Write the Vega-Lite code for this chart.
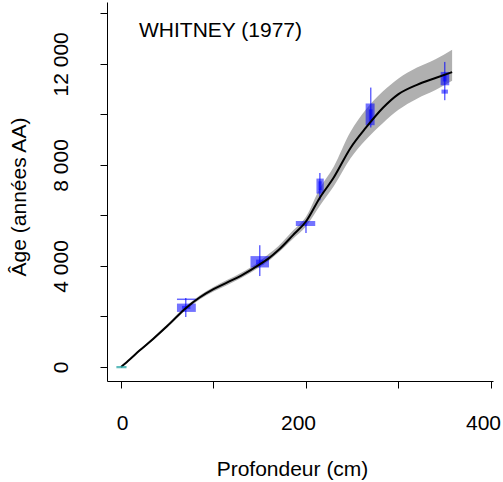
{
  "$schema": "https://vega.github.io/schema/vega-lite/v6.json",
  "width": 386,
  "height": 379,
  "autosize": "none",
  "padding": {"left": 107, "top": 2, "right": 10, "bottom": 101},
  "background": "white",
  "config": {
    "view": {"stroke": null},
    "font": "Liberation Sans",
    "axis": {
      "grid": false,
      "domainColor": "#000000",
      "tickColor": "#000000",
      "tickSize": 7,
      "labelFont": "Liberation Sans",
      "labelFontSize": 21,
      "labelColor": "#000000",
      "labelFlush": false,
      "labelOverlap": false,
      "titleFont": "Liberation Sans",
      "titleFontSize": 21,
      "titleFontWeight": "normal",
      "titleColor": "#000000"
    }
  },
  "title": {
    "text": "WHITNEY (1977)",
    "anchor": "start",
    "frame": "group",
    "orient": "top",
    "offset": 0,
    "dx": 32,
    "dy": 56,
    "baseline": "alphabetic",
    "font": "Liberation Sans",
    "fontSize": 21,
    "fontWeight": "normal",
    "color": "#000000"
  },
  "datasets": {
    "curve": [
      {"depth": 0, "age": 0, "lo": 0, "hi": 0},
      {"depth": 10, "age": 320, "lo": 290, "hi": 350},
      {"depth": 20, "age": 650, "lo": 610, "hi": 690},
      {"depth": 35, "age": 1120, "lo": 1070, "hi": 1175},
      {"depth": 50, "age": 1620, "lo": 1560, "hi": 1690},
      {"depth": 70, "age": 2330, "lo": 2260, "hi": 2400},
      {"depth": 85, "age": 2750, "lo": 2670, "hi": 2830},
      {"depth": 100, "age": 3080, "lo": 2990, "hi": 3170},
      {"depth": 115, "age": 3350, "lo": 3250, "hi": 3450},
      {"depth": 130, "age": 3620, "lo": 3520, "hi": 3730},
      {"depth": 150, "age": 4060, "lo": 3960, "hi": 4190},
      {"depth": 160, "age": 4310, "lo": 4210, "hi": 4480},
      {"depth": 170, "age": 4620, "lo": 4520, "hi": 4780},
      {"depth": 186, "age": 5220, "lo": 5080, "hi": 5400},
      {"depth": 200, "age": 5760, "lo": 5560, "hi": 5950},
      {"depth": 215, "age": 6700, "lo": 6380, "hi": 7080},
      {"depth": 230, "age": 7500, "lo": 7150, "hi": 7930},
      {"depth": 248, "age": 8660, "lo": 8250, "hi": 9300},
      {"depth": 265, "age": 9480, "lo": 9000, "hi": 10200},
      {"depth": 283, "age": 10250, "lo": 9650, "hi": 10900},
      {"depth": 300, "age": 10800, "lo": 10180, "hi": 11420},
      {"depth": 320, "age": 11170, "lo": 10620, "hi": 11850},
      {"depth": 340, "age": 11440, "lo": 10960, "hi": 12180},
      {"depth": 358, "age": 11670, "lo": 11330, "hi": 12560}
    ],
    "boxes": [
      {"d1": 60.5, "d2": 80.9, "a1": 2180, "a2": 2510},
      {"d1": 140, "d2": 160, "a1": 3940, "a2": 4390},
      {"d1": 189, "d2": 210, "a1": 5580, "a2": 5780},
      {"d1": 211.3, "d2": 219.2, "a1": 6864, "a2": 7458},
      {"d1": 264.5, "d2": 274.2, "a1": 9570, "a2": 10430},
      {"d1": 345.6, "d2": 354.9, "a1": 11150, "a2": 11680},
      {"d1": 346.5, "d2": 353.5, "a1": 10820, "a2": 10980},
      {"d1": 66, "d2": 75, "a1": 2300, "a2": 2420},
      {"d1": 146, "d2": 154, "a1": 4050, "a2": 4250},
      {"d1": 213.5, "d2": 217, "a1": 7000, "a2": 7350},
      {"d1": 268, "d2": 272, "a1": 9700, "a2": 10200},
      {"d1": 348, "d2": 352, "a1": 11300, "a2": 11600}
    ],
    "bars": [
      {"d": 70, "a1": 1980, "a2": 2732},
      {"d": 150, "a1": 3600, "a2": 4820},
      {"d": 200, "a1": 5305, "a2": 5808},
      {"d": 215, "a1": 6600, "a2": 7680},
      {"d": 270, "a1": 9480, "a2": 11060},
      {"d": 350, "a1": 10560, "a2": 12075}
    ],
    "caps": [
      {"d1": 60.5, "d2": 80.9, "a": 2680}
    ],
    "origin": [
      {"d1": -5, "d2": 6, "a1": -50, "a2": 40}
    ]
  },
  "layer": [
    {
      "data": {"name": "curve"},
      "mark": {"type": "area", "color": "#b0b0b0", "interpolate": "monotone"},
      "encoding": {
        "x": {
          "field": "depth", "type": "quantitative",
          "scale": {"domain": [-15.14, 402.2], "nice": false, "zero": false},
          "axis": {
            "title": "Profondeur (cm)",
            "values": [0, 100, 200, 300, 400],
            "labelExpr": "datum.value % 200 == 0 ? datum.label : ''",
            "labelBaseline": "alphabetic",
            "labelPadding": 41,
            "labelOffset": {"condition": {"test": "datum.value == 0", "value": 1}, "value": -8},
            "titleX": 185,
            "titleY": 94,
            "titleAlign": "center",
            "titleBaseline": "alphabetic"
          }
        },
        "y": {
          "field": "lo", "type": "quantitative",
          "scale": {"domain": [-554, 14447], "nice": false, "zero": false},
          "axis": {
            "title": "Âge (années AA)",
            "values": [0, 2000, 4000, 6000, 8000, 10000, 12000, 14000],
            "labelExpr": "datum.value % 4000 == 0 ? replace(format(datum.value, ','), ',', ' ') : ''",
            "labelAngle": 270,
            "labelAlign": "center",
            "labelBaseline": "alphabetic",
            "labelPadding": 33,
            "titleAngle": 270,
            "titleX": -82,
            "titleY": 194.5,
            "titleAlign": "center",
            "titleBaseline": "alphabetic"
          }
        },
        "y2": {"field": "hi"}
      }
    },
    {
      "data": {"name": "boxes"},
      "mark": {"type": "rect", "color": "#0000ff", "opacity": 0.55},
      "encoding": {
        "x": {"field": "d1", "type": "quantitative", "title": "Profondeur (cm)", "scale": {"domain": [-15.14, 402.2], "nice": false, "zero": false}},
        "x2": {"field": "d2"},
        "y": {"field": "a1", "type": "quantitative", "title": "Âge (années AA)", "scale": {"domain": [-554, 14447], "nice": false, "zero": false}},
        "y2": {"field": "a2"}
      }
    },
    {
      "data": {"name": "bars"},
      "mark": {"type": "rule", "color": "#0000ff", "opacity": 0.6, "strokeWidth": 1.5},
      "encoding": {
        "x": {"field": "d", "type": "quantitative", "title": "Profondeur (cm)", "scale": {"domain": [-15.14, 402.2], "nice": false, "zero": false}},
        "y": {"field": "a1", "type": "quantitative", "title": "Âge (années AA)", "scale": {"domain": [-554, 14447], "nice": false, "zero": false}},
        "y2": {"field": "a2"}
      }
    },
    {
      "data": {"name": "caps"},
      "mark": {"type": "rule", "color": "#0000ff", "opacity": 0.6, "strokeWidth": 1.5},
      "encoding": {
        "x": {"field": "d1", "type": "quantitative", "title": "Profondeur (cm)", "scale": {"domain": [-15.14, 402.2], "nice": false, "zero": false}},
        "x2": {"field": "d2"},
        "y": {"field": "a", "type": "quantitative", "title": "Âge (années AA)", "scale": {"domain": [-554, 14447], "nice": false, "zero": false}}
      }
    },
    {
      "data": {"name": "curve"},
      "mark": {"type": "line", "color": "#000000", "strokeWidth": 2, "interpolate": "monotone"},
      "encoding": {
        "x": {"field": "depth", "type": "quantitative", "title": "Profondeur (cm)", "scale": {"domain": [-15.14, 402.2], "nice": false, "zero": false}},
        "y": {"field": "age", "type": "quantitative", "title": "Âge (années AA)", "scale": {"domain": [-554, 14447], "nice": false, "zero": false}}
      }
    },
    {
      "data": {"name": "origin"},
      "mark": {"type": "rect", "color": "#2aa5a5", "opacity": 0.75},
      "encoding": {
        "x": {"field": "d1", "type": "quantitative", "title": "Profondeur (cm)", "scale": {"domain": [-15.14, 402.2], "nice": false, "zero": false}},
        "x2": {"field": "d2"},
        "y": {"field": "a1", "type": "quantitative", "title": "Âge (années AA)", "scale": {"domain": [-554, 14447], "nice": false, "zero": false}},
        "y2": {"field": "a2"}
      }
    }
  ]
}
